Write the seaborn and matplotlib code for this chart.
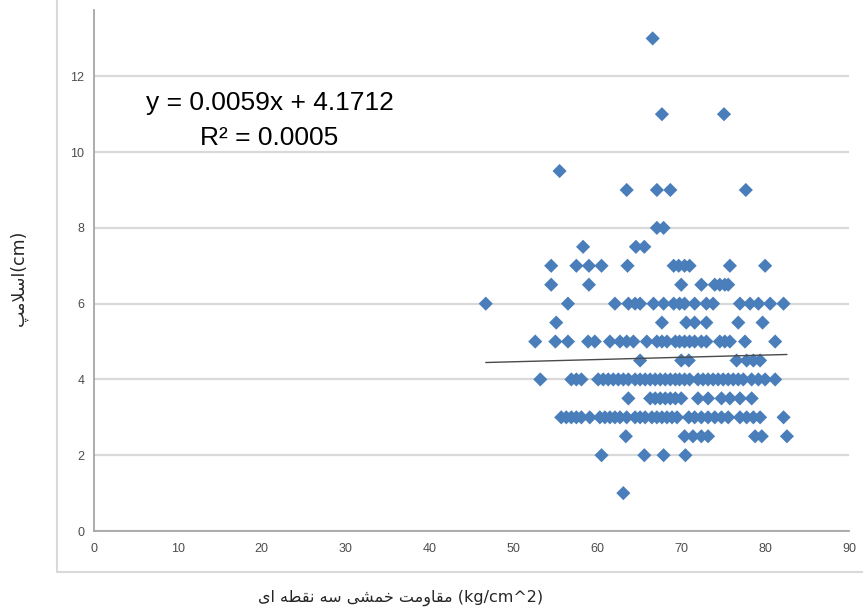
import numpy as np
import pandas as pd
import matplotlib
matplotlib.use("Agg")
import matplotlib.pyplot as plt
from matplotlib.lines import Line2D
import seaborn as sns

# Flexural strength (kg/cm^2) of specimens, grouped by measured slump (cm)
slump_levels = [13, 11, 9.5, 9, 8, 7.5, 7, 6.5, 6, 5.5, 5, 4.5, 4, 3.5, 3, 2.5, 2, 1]
strength_s13 = [66.6]
strength_s11 = [67.7, 75.1]
strength_s9_5 = [55.5]
strength_s9 = [63.5, 67.1, 68.7, 77.7]
strength_s8 = [67.1, 67.9]
strength_s7_5 = [58.3, 64.6, 65.6]
strength_s7 = [54.5, 57.5, 59.0, 60.5, 63.6, 69.1, 69.7, 70.4, 71.0, 75.8, 80.0]
strength_s6_5 = [54.5, 59.0, 70.0, 72.4, 74.0, 74.6, 75.2, 75.6]
strength_s6 = [46.7, 56.5, 62.1, 63.7, 64.5, 65.1, 66.7, 67.9, 69.1, 69.8, 70.4,
               71.6, 73.0, 73.8, 77.0, 78.2, 79.2, 80.6, 82.2]
strength_s5_5 = [55.1, 67.7, 70.6, 71.6, 73.0, 76.8, 79.7]
strength_s5 = [52.6, 55.0, 56.5, 58.9, 59.7, 61.5, 62.7, 63.5, 64.3, 65.9, 67.1,
               67.7, 68.3, 69.3, 69.8, 70.4, 71.0, 71.6, 72.4, 73.0, 74.6, 75.2,
               75.8, 77.6, 81.2]
strength_s4_5 = [65.1, 70.0, 70.9, 76.6, 77.8, 78.6, 79.4]
strength_s4 = [53.2, 56.9, 57.5, 58.1, 60.1, 60.7, 61.3, 61.9, 62.5, 63.1, 63.7,
               64.5, 65.1, 65.7, 66.3, 66.9, 67.5, 68.1, 68.7, 69.3, 69.8, 70.4,
               71.0, 72.0, 72.6, 73.2, 73.8, 74.4, 75.0, 75.6, 76.2, 76.8, 77.4,
               78.4, 79.2, 80.0, 81.2]
strength_s3_5 = [63.7, 66.3, 66.9, 67.5, 68.1, 68.7, 69.3, 70.0, 72.0, 73.2, 74.8,
                 75.8, 77.0, 78.4]
strength_s3 = [55.7, 56.3, 56.9, 57.5, 58.1, 59.1, 60.3, 60.9, 61.5, 62.1, 62.7,
               63.5, 64.5, 65.1, 65.7, 66.5, 67.1, 67.7, 68.3, 68.9, 69.5, 70.9,
               71.6, 72.4, 73.2, 74.0, 74.8, 75.6, 77.0, 77.8, 78.6, 79.4, 82.2]
strength_s2_5 = [63.4, 70.4, 71.4, 72.4, 73.2, 78.8, 79.6, 82.6]
strength_s2 = [60.5, 65.6, 67.9, 70.5]
strength_s1 = [63.1]

strength_groups = [strength_s13, strength_s11, strength_s9_5, strength_s9, strength_s8,
                   strength_s7_5, strength_s7, strength_s6_5, strength_s6, strength_s5_5,
                   strength_s5, strength_s4_5, strength_s4, strength_s3_5, strength_s3,
                   strength_s2_5, strength_s2, strength_s1]

# Linear trendline as reported on the chart
trend_slope = 0.0059
trend_intercept = 4.1712
r_squared = 0.0005

x_ticks = [0, 10, 20, 30, 40, 50, 60, 70, 80, 90]
y_ticks = [0, 2, 4, 6, 8, 10, 12]

x_title = "مقاومت خمشی سه نقطه ای"
x_unit = " (kg/cm^2)"
y_title = "اسلامپ"
y_unit = "(cm)"

# ---- minimal Persian shaping (matplotlib has no complex text layout) ----
FORMS = {
    # letter: (isolated, final, initial, medial)
    "ا": ("\uFE8D", "\uFE8E", None, None),
    "س": ("\uFEB1", "\uFEB2", "\uFEB3", "\uFEB4"),
    "ل": ("\uFEDD", "\uFEDE", "\uFEDF", "\uFEE0"),
    "م": ("\uFEE1", "\uFEE2", "\uFEE3", "\uFEE4"),
    "پ": ("\uFB56", "\uFB57", "\uFB58", "\uFB59"),
    "ق": ("\uFED5", "\uFED6", "\uFED7", "\uFED8"),
    "و": ("\uFEED", "\uFEEE", None, None),
    "ت": ("\uFE95", "\uFE96", "\uFE97", "\uFE98"),
    "خ": ("\uFEA5", "\uFEA6", "\uFEA7", "\uFEA8"),
    "ش": ("\uFEB5", "\uFEB6", "\uFEB7", "\uFEB8"),
    "ی": ("\uFBFC", "\uFBFD", "\uFBFE", "\uFBFF"),
    "ه": ("\uFEE9", "\uFEEA", "\uFEEB", "\uFEEC"),
    "ن": ("\uFEE5", "\uFEE6", "\uFEE7", "\uFEE8"),
    "ط": ("\uFEC1", "\uFEC2", "\uFEC3", "\uFEC4"),
}
RIGHT_JOINING = set("اوردذزژ")


def shape_rtl(text):
    out = []
    i = 0
    n = len(text)
    while i < n:
        ch = text[i]
        prev = text[i - 1] if i > 0 else ""
        joins_prev = prev in FORMS and prev not in RIGHT_JOINING
        if ch == "ل" and i + 1 < n and text[i + 1] == "ا":
            out.append("\uFEFC" if joins_prev else "\uFEFB")
            i += 2
            continue
        if ch not in FORMS:
            out.append(ch)
            i += 1
            continue
        nxt = text[i + 1] if i + 1 < n else ""
        joins_next = nxt in FORMS and ch not in RIGHT_JOINING
        iso, fin, ini, med = FORMS[ch]
        if joins_prev and joins_next:
            out.append(med)
        elif joins_prev:
            out.append(fin)
        elif joins_next:
            out.append(ini)
        else:
            out.append(iso)
        i += 1
    return "".join(out)[::-1]


# ---- data frame ----
rows = []
for level, xs in zip(slump_levels, strength_groups):
    for xv in xs:
        rows.append({"strength": xv, "slump": level})
df = pd.DataFrame(rows)

sns.set_theme(style="white")
plt.rcParams["font.family"] = ["Liberation Sans", "DejaVu Sans"]

W, H = 863, 612
fig = plt.figure(figsize=(W / 100, H / 100), dpi=100)
fig.patch.set_facecolor("white")
ax = fig.add_axes([94 / W, 1 - 531 / H, (849 - 94) / W, (531 - 10) / H])

sns.scatterplot(data=df, x="strength", y="slump", marker="D", s=52,
                color="#4A7EBB", edgecolor="none", linewidth=0, ax=ax, zorder=3)

# trendline over the range of the data
x_line = np.array([df["strength"].min(), df["strength"].max()])
y_line = trend_slope * x_line + trend_intercept
ax.plot(x_line, y_line, color="#4a4a4a", linewidth=1.0, zorder=4)

ax.set_xlim(0, 90)
ax.set_ylim(0, 13.75)
ax.set_xticks(x_ticks)
ax.set_yticks(y_ticks)
ax.set_xticklabels([str(t) for t in x_ticks])
ax.set_yticklabels([str(t) for t in y_ticks])
ax.set_xlabel("")
ax.set_ylabel("")

ax.yaxis.grid(True, color="#D9D9D9", linewidth=1.6)
ax.xaxis.grid(False)
ax.set_axisbelow(True)
for side in ("top", "right"):
    ax.spines[side].set_visible(False)
for side in ("left", "bottom"):
    ax.spines[side].set_color("#A6A6A6")
    ax.spines[side].set_linewidth(1.3)
ax.tick_params(axis="both", which="both", direction="out", length=4, width=1,
               color="#A6A6A6", labelsize=9, labelcolor="#4d4d4d", pad=3)
ax.tick_params(axis="x", pad=5)

# regression equation
fig.text(270 / W, 1 - 103 / H, f"y = {trend_slope:.4f}x + {trend_intercept:.4f}",
         ha="center", va="center", fontsize=19, color="black")
fig.text(269 / W, 1 - 138 / H, f"R² = {r_squared:.4f}",
         ha="center", va="center", fontsize=19, color="black")

# chart-area border lines
fig.add_artist(Line2D([57 / W, 57 / W], [1.0, 1 - 572 / H], transform=fig.transFigure,
                      color="#D9D9D9", linewidth=1.5))
fig.add_artist(Line2D([57 / W, 1.0], [1 - 572 / H, 1 - 572 / H], transform=fig.transFigure,
                      color="#D9D9D9", linewidth=1.5))

# axis titles
fig.text(401 / W, 1 - 598 / H, shape_rtl(x_title) + x_unit, ha="center", va="center",
         fontsize=11.5, color="#262626", family=["DejaVu Sans"])
fig.text(19 / W, 1 - 278 / H, shape_rtl(y_title) + y_unit, ha="center", va="center",
         rotation=90, fontsize=12.5, color="#262626", family=["DejaVu Sans"])

fig.savefig("out.png", dpi=100)
